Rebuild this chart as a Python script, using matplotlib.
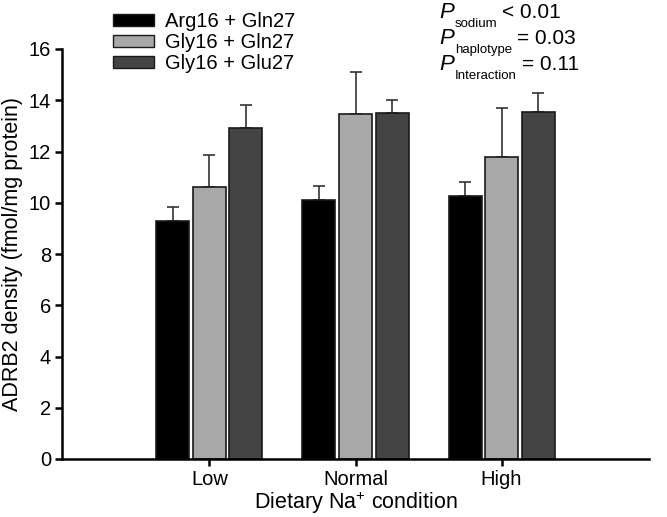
import matplotlib
matplotlib.use("Agg")
import matplotlib.pyplot as plt
from matplotlib.patches import Patch
import numpy as np

plt.rcParams['font.family'] = ['Liberation Sans', 'DejaVu Sans']
plt.rcParams['mathtext.fontset'] = 'custom'
plt.rcParams['mathtext.rm'] = 'Liberation Sans'

conditions = ['Low', 'Normal', 'High']
haplotypes = ['Arg16 + Gln27', 'Gly16 + Gln27', 'Gly16 + Glu27']
means = {
    'Arg16 + Gln27': [9.3, 10.1, 10.25],
    'Gly16 + Gln27': [10.6, 13.45, 11.8],
    'Gly16 + Glu27': [12.9, 13.5, 13.55],
}
errors = {
    'Arg16 + Gln27': [0.55, 0.55, 0.55],
    'Gly16 + Gln27': [1.25, 1.65, 1.9],
    'Gly16 + Glu27': [0.9, 0.5, 0.75],
}
colors = ['#000000', '#a8a8a8', '#444444']
p_names = ['sodium', 'haplotype', 'Interaction']
p_values = ['< 0.01', '= 0.03', '= 0.11']

W, H = 667, 517
fig, ax = plt.subplots(figsize=(W / 100, H / 100), dpi=100)
fig.subplots_adjust(left=62 / W, right=649 / W, bottom=1 - 459 / H, top=1 - 49 / H)

x = np.arange(1, len(conditions) + 1)
width = 0.226
offsets = [-0.25, 0, 0.25]
for h, c, off in zip(haplotypes, colors, offsets):
    ax.bar(x + off, means[h], width, color=c, edgecolor='#1a1a1a', linewidth=1.2, zorder=2)
    ax.errorbar(x + off, means[h], yerr=[np.zeros(3), errors[h]], fmt='none',
                ecolor='#333333', elinewidth=1.2, capsize=4.5, capthick=1.2, zorder=1)

ax.set_xlim(-0.01, 4.01)
ax.set_ylim(0, 16)
ax.set_yticks(range(0, 17, 2))
ax.set_xticks(x)
ax.set_xticklabels(conditions)
ax.tick_params(axis='both', labelsize=14.5, width=1.8, length=5, pad=3)
for s in ['top', 'right']:
    ax.spines[s].set_visible(False)
for s in ['left', 'bottom']:
    ax.spines[s].set_linewidth(1.8)

ax.set_ylabel('ADRB2 density (fmol/mg protein)', fontsize=15.5, labelpad=4)
ax.set_xlabel('Dietary Na$^{+}$ condition', fontsize=15.5, labelpad=0)

handles = [Patch(facecolor=c, edgecolor='#1a1a1a', linewidth=1.0, label=h)
           for h, c in zip(haplotypes, colors)]
fig.legend(handles=handles, loc='upper left', bbox_to_anchor=(113 / W, 1 - 12 / H),
           frameon=False, fontsize=14.5, handlelength=2.05, handleheight=0.6,
           labelspacing=0.1, handletextpad=0.55, borderpad=0, borderaxespad=0)

# P-value annotations built piece by piece (pixel coordinates)
renderer = fig.canvas.get_renderer()
baselines = [18, 44, 70]
for name, val, b in zip(p_names, p_values, baselines):
    yb = H - b
    tp = fig.text(439, yb, 'P', fontsize=16, style='italic', va='baseline', transform=None)
    x1 = tp.get_window_extent(renderer).x1
    ts = fig.text(x1 + 1, yb - 9, name, fontsize=9.5, va='baseline', transform=None)
    x2 = ts.get_window_extent(renderer).x1
    fig.text(x2 + 5, yb, val, fontsize=15, va='baseline', transform=None)

fig.savefig('out.png', dpi=100)
